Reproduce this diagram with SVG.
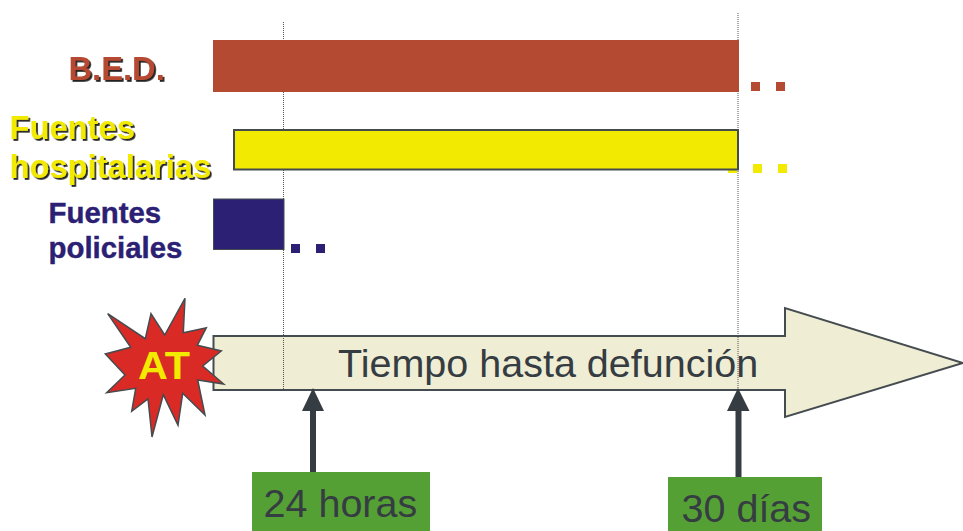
<svg xmlns="http://www.w3.org/2000/svg" width="963" height="531" viewBox="0 0 963 531">
<style>
text{font-family:"Liberation Sans",Arial,sans-serif}
.lbl{font-weight:bold;font-size:32.700px}
.pol{font-weight:bold;font-size:29.400px;stroke:#2b2073;stroke-width:.4px}
.red{fill:#b54a32}.yel{fill:#f2ea00}.blu{fill:#2b2073}
.bar{stroke:#454c50;stroke-width:2}
.guide{fill:none;stroke:#555;stroke-width:1;stroke-dasharray:1 1}
.grn{fill:#55a035}
.big{font-size:39.500px;fill:#353c42}
</style>
<defs><filter id="sh" x="-10%" y="-20%" width="120%" height="140%"><feDropShadow dx="1.800" dy="1.800" stdDeviation="0.300" flood-color="#222"/></filter></defs>
<rect width="963" height="531" fill="#fff"/>
<g id="timeline">
<polygon points="213.500,336 785,336 785,308 963,363 785,417 785,390 213.500,390" fill="#efedd4" stroke="#454c50" stroke-width="2"/>
<text x="338" y="377" class="big">Tiempo hasta defunción</text>
</g>
<g id="guides">
<line class="guide" x1="283.500" y1="22" x2="283.500" y2="390"/>
<line class="guide" x1="738" y1="13" x2="738" y2="388"/>
</g>
<g id="bed">
<rect x="213" y="40" width="526" height="52" class="red"/>
<rect x="751" y="82" width="9" height="9" class="red"/><rect x="776" y="82" width="9" height="9" class="red"/>
<text x="68.500" y="80" class="lbl red" filter="url(#sh)">B.E.D.</text>
</g>
<g id="hospital">
<rect x="728" y="164" width="9" height="9" class="yel"/><rect x="753" y="164" width="9" height="9" class="yel"/><rect x="778" y="164" width="9" height="9" class="yel"/>
<rect x="234" y="130" width="504" height="39.500" class="yel bar"/>
<text x="9.500" y="139" class="lbl yel" filter="url(#sh)">Fuentes</text>
<text x="9.500" y="178" class="lbl yel" filter="url(#sh)">hospitalarias</text>
</g>
<g id="police">
<rect x="213.500" y="199" width="70.500" height="50.500" class="blu" stroke="#454c50" stroke-width="1"/>
<rect x="291" y="244" width="9" height="9" class="blu"/><rect x="316" y="244" width="9" height="9" class="blu"/>
<text x="48.500" y="223" class="pol blu">Fuentes</text>
<text x="48.500" y="258" class="pol blu">policiales</text>
</g>
<g id="at">
<polygon points="185,298.300 183.300,332.700 206.300,327.700 197.300,345.300 221.300,351 202.700,366 223.700,384 197.700,380 205,415 182.700,393.300 178,425.300 163.300,394.700 152,437 148,399 131.700,411.300 135.700,388.300 106.700,392.700 125,375 105.300,354 130.700,347.300 107.700,313.700 145.300,338.700 151,313.700 164.700,335" fill="#d92a26" stroke="#454c50" stroke-width="1.500"/>
<text x="138" y="379" font-size="38" font-weight="bold" fill="#f2ea00" textLength="52" lengthAdjust="spacingAndGlyphs">AT</text>
</g>
<g id="connectors">
<line x1="313" y1="472" x2="313" y2="408" stroke="#353c42" stroke-width="6"/>
<polygon points="313,388 302,411 324,411" fill="#353c42"/>
<line x1="738.500" y1="477" x2="738.500" y2="408" stroke="#353c42" stroke-width="6"/>
<polygon points="738,388 727,411 749.500,411" fill="#353c42"/>
</g>
<g id="h24">
<rect x="252" y="472" width="178" height="59" class="grn"/>
<text x="263.500" y="517" class="big">24 horas</text>
</g>
<g id="d30">
<rect x="668" y="477" width="154" height="54" class="grn"/>
<text x="681.500" y="522" class="big">30 días</text>
</g>
</svg>
